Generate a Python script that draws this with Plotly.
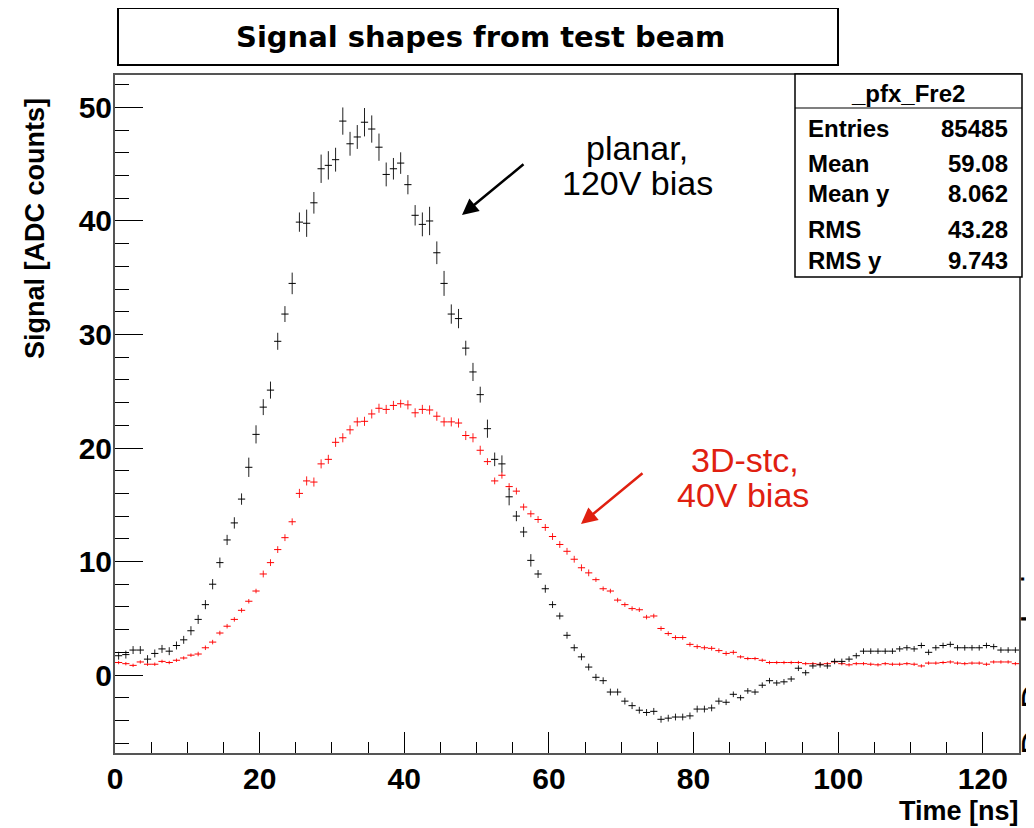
import plotly.graph_objects as go

# ---------------- data ----------------
time_ns = [i + 0.5 for i in range(125)]  # 1 ns bin centres, 0..125 ns

planar_120V = [1.7, 1.8, 2.2, 2.2, 1.4, 1.9, 2.3, 2.1, 2.6, 3.1,
               3.9, 4.9, 6.2, 8.0, 9.9, 11.9, 13.4, 15.5, 18.3, 21.2,
               23.6, 25.1, 29.4, 31.8, 34.5, 39.9, 39.8, 41.6, 44.6, 44.9,
               45.4, 48.8, 46.8, 47.4, 48.7, 48.1, 46.5, 44.1, 44.6, 45.1,
               43.2, 40.5, 39.7, 40.0, 37.2, 34.5, 31.8, 31.4, 28.8, 26.7,
               24.7, 21.7, 19.0, 18.6, 15.7, 14.0, 12.6, 10.1, 8.9, 7.6,
               6.2, 5.2, 3.5, 2.4, 1.6, 0.7, -0.2, -0.5, -1.5, -1.5,
               -2.3, -2.7, -3.1, -3.3, -3.2, -3.9, -3.8, -3.7, -3.7, -3.6,
               -3.0, -3.0, -2.9, -2.3, -2.4, -1.7, -2.0, -1.4, -1.5, -0.9,
               -0.5, -0.7, -0.6, -0.35, 0.6, 0.2, 0.8, 0.9, 0.8, 1.2,
               1.2, 1.4, 1.7, 2.1, 2.1, 2.1, 2.1, 2.1, 2.3, 2.4,
               2.3, 2.6, 2.0, 2.4, 2.6, 2.7, 2.4, 2.4, 2.4, 2.4,
               2.6, 2.5, 2.2, 2.2, 2.2]

planar_err = [0.35, 0.35, 0.35, 0.35, 0.35, 0.35, 0.35, 0.35, 0.35, 0.35,
              0.4, 0.4, 0.4, 0.45, 0.45, 0.45, 0.5, 0.5, 0.85, 0.8,
              0.7, 0.75, 0.75, 0.7, 0.95, 0.85, 1.2, 0.95, 1.25, 1.25,
              1.05, 1.2, 1.05, 1.05, 1.25, 1.2, 1.2, 1.05, 0.95, 0.95,
              0.85, 0.9, 1.05, 1.25, 1.0, 1.1, 0.85, 0.85, 0.65, 0.8,
              0.7, 0.8, 0.6, 0.75, 0.75, 0.45, 0.45, 0.55, 0.35, 0.35,
              0.3, 0.3, 0.3, 0.3, 0.3, 0.3, 0.3, 0.3, 0.3, 0.3,
              0.3, 0.3, 0.3, 0.3, 0.3, 0.3, 0.3, 0.3, 0.3, 0.3,
              0.3, 0.3, 0.3, 0.3, 0.25, 0.25, 0.25, 0.25, 0.25, 0.25,
              0.25, 0.25, 0.25, 0.25, 0.25, 0.25, 0.25, 0.25, 0.25, 0.25,
              0.25, 0.25, 0.25, 0.25, 0.25, 0.25, 0.25, 0.25, 0.25, 0.25,
              0.25, 0.25, 0.25, 0.25, 0.25, 0.25, 0.25, 0.25, 0.25, 0.25,
              0.25, 0.25, 0.25, 0.25, 0.25]

stc_40V = [1.1, 1.0, 0.85, 1.15, 0.95, 0.95, 1.2, 1.1, 1.3, 1.5,
           1.75, 1.85, 2.4, 2.9, 3.7, 4.3, 4.9, 5.7, 6.5, 7.4,
           8.9, 9.9, 11.05, 12.1, 13.5, 16.0, 17.1, 17.0, 18.6, 19.0,
           20.5, 20.9, 21.6, 22.3, 22.35, 23.0, 23.5, 23.4, 23.75, 23.9,
           23.8, 23.1, 23.4, 23.35, 22.8, 22.3, 22.3, 22.2, 21.1, 20.9,
           19.8, 18.8, 17.1, 17.6, 16.6, 16.2, 14.8, 14.2, 13.7, 13.0,
           12.2, 11.5, 10.9, 10.2, 9.45, 9.0, 8.4, 7.6, 7.4, 6.6,
           6.2, 5.85, 5.75, 5.1, 5.2, 4.1, 3.65, 3.3, 3.3, 2.7,
           2.5, 2.4, 2.35, 2.15, 1.9, 2.0, 1.6, 1.45, 1.45, 1.3,
           1.1, 1.1, 1.1, 1.1, 1.1, 1.0, 1.0, 0.95, 1.0, 1.15,
           1.0, 0.9, 1.0, 1.0, 0.95, 0.9, 1.0, 0.95, 0.95, 1.0,
           0.95, 0.8, 1.05, 1.05, 1.1, 1.15, 1.05, 1.0, 1.05, 1.05,
           0.95, 1.15, 1.15, 1.15, 1.0]

stc_err = [0.15, 0.15, 0.15, 0.15, 0.15, 0.15, 0.15, 0.15, 0.15, 0.15,
           0.15, 0.2, 0.2, 0.2, 0.2, 0.2, 0.2, 0.2, 0.2, 0.2,
           0.3, 0.3, 0.3, 0.3, 0.3, 0.4, 0.4, 0.4, 0.4, 0.4,
           0.4, 0.4, 0.4, 0.4, 0.4, 0.4, 0.4, 0.4, 0.4, 0.35,
           0.4, 0.4, 0.4, 0.4, 0.4, 0.4, 0.4, 0.4, 0.4, 0.4,
           0.4, 0.3, 0.3, 0.3, 0.3, 0.3, 0.3, 0.3, 0.3, 0.3,
           0.3, 0.3, 0.3, 0.3, 0.3, 0.3, 0.2, 0.2, 0.2, 0.2,
           0.2, 0.2, 0.2, 0.2, 0.2, 0.2, 0.2, 0.2, 0.2, 0.2,
           0.2, 0.2, 0.2, 0.2, 0.2, 0.2, 0.15, 0.15, 0.15, 0.15,
           0.15, 0.15, 0.15, 0.15, 0.15, 0.15, 0.15, 0.15, 0.15, 0.15,
           0.15, 0.15, 0.15, 0.15, 0.15, 0.15, 0.15, 0.15, 0.15, 0.15,
           0.15, 0.15, 0.15, 0.15, 0.15, 0.15, 0.15, 0.15, 0.15, 0.15,
           0.15, 0.15, 0.15, 0.15, 0.15]

stats_labels = ["Entries", "Mean", "Mean y", "RMS", "RMS y"]
stats_values = ["85485", "59.08", "8.062", "43.28", "9.743"]

# ---------------- layout helpers ----------------
# The page body has an 8px margin, so the figure is drawn 8px smaller and
# all reference-pixel positions are shifted by that amount.
OFF = 8
W, H = 1034 - OFF, 828 - OFF
L, R, T, B = 115, 1019, 75, 753  # plot frame in reference pixels


def px(xp):
    return (xp - L) / (R - L)


def py(yp):
    return (B - yp) / (B - T)


BOLD = dict(family="Liberation Sans, Arial, sans-serif", color="black", weight="bold")
RED_TXT = "#e02010"

fig = go.Figure()

fig.add_trace(go.Scatter(
    x=time_ns, y=stc_40V, mode="markers",
    marker=dict(size=1, color="rgba(0,0,0,0)"),
    error_x=dict(type="constant", value=0.5, width=0, thickness=1, color="#ff0000"),
    error_y=dict(type="data", array=stc_err, width=0, thickness=1, color="#ff2020"),
    showlegend=False, hoverinfo="skip"))

fig.add_trace(go.Scatter(
    x=time_ns, y=planar_120V, mode="markers",
    marker=dict(size=1, color="rgba(0,0,0,0)"),
    error_x=dict(type="constant", value=0.5, width=0, thickness=1, color="black"),
    error_y=dict(type="data", array=planar_err, width=0, thickness=1, color="#202020"),
    showlegend=False, hoverinfo="skip"))

annotations = []
shapes = []


def text(t, x, y, size, xanchor="center", color="black", bold=False, angle=0, family=None):
    f = dict(size=size, color=color, family=family or "Liberation Sans, Arial, sans-serif")
    if bold:
        f["weight"] = "bold"
    annotations.append(dict(text=t, x=px(x), y=py(y), xref="paper", yref="paper",
                            xanchor=xanchor, yanchor="middle", textangle=angle,
                            showarrow=False, font=f))


# axis titles
text("Signal [ADC counts]", 35, 229, 27, bold=True, angle=-90)
text("Time [ns]", 1021, 811, 27, xanchor="right", bold=True)

# curve labels
text("planar,", 637, 148, 34)
text("120V bias", 637, 183, 34)
text("3D-stc,", 745, 460, 34, color=RED_TXT)
text("40V bias", 743, 495, 34, color=RED_TXT)

# arrows
annotations.append(dict(text="", x=px(462), y=py(215), xref="paper", yref="paper",
                        ax=63, ay=-52, showarrow=True, arrowhead=2, arrowsize=1.3,
                        arrowwidth=2.5, arrowcolor="black"))
annotations.append(dict(text="", x=px(581), y=py(524), xref="paper", yref="paper",
                        ax=63, ay=-52, showarrow=True, arrowhead=2, arrowsize=1.3,
                        arrowwidth=2.5, arrowcolor=RED_TXT))

# title box
shapes.append(dict(type="rect", xref="paper", yref="paper", x0=px(118), x1=px(838), y0=py(65), y1=py(8),
                   line=dict(color="black", width=2), fillcolor="white"))
text("Signal shapes from test beam", 480, 37, 29, bold=True,
     family="Comic Sans MS, DejaVu Sans, sans-serif")

# stats box
shapes.append(dict(type="rect", xref="paper", yref="paper", x0=px(795), x1=px(1022), y0=py(277), y1=py(74),
                   line=dict(color="black", width=1.5), fillcolor="white", layer="above"))
shapes.append(dict(type="line", xref="paper", yref="paper", x0=px(795), x1=px(1022), y0=py(108), y1=py(108),
                   line=dict(color="black", width=1.2), layer="above"))
text("_pfx_Fre2", 908, 93, 24, bold=True)
row_y = [128, 163, 193, 230, 260]
for lab, val, yy in zip(stats_labels, stats_values, row_y):
    text(lab, 806, yy, 24, xanchor="left", bold=True)
    text(val, 1010, yy, 24, xanchor="right", bold=True)

# author tag at right edge (partly cut off by the page edge)
text("D. Dannheim", 1035, 650, 36, angle=-90)

axis_common = dict(showline=True, mirror=True, linecolor="#555555", linewidth=2,
                   showgrid=False, zeroline=False, ticks="inside", tickcolor="black", tickwidth=1)

fig.update_layout(
    width=W, height=H,
    margin=dict(l=L - OFF, r=1034 - R, t=T - OFF, b=828 - B),
    paper_bgcolor="white", plot_bgcolor="white",
    xaxis=dict(range=[0, 125], tick0=0, dtick=20, ticklen=21, ticklabelstandoff=-2,
               minor=dict(ticks="inside", ticklen=11, dtick=5, tickcolor="black", tickwidth=1),
               tickfont=dict(size=30, **BOLD), **axis_common),
    yaxis=dict(range=[-6.87, 52.86], tick0=0, dtick=10, ticklen=28, ticklabelstandoff=-5,
               minor=dict(ticks="inside", ticklen=14, dtick=2, tickcolor="black", tickwidth=1),
               tickfont=dict(size=30, **BOLD), **axis_common),
    annotations=annotations, shapes=shapes,
)

fig.write_html("out.html")
